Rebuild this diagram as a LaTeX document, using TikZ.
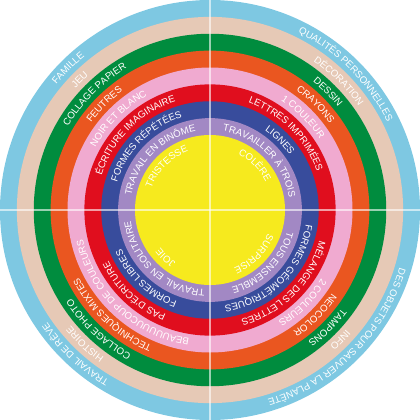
\documentclass[tikz,border=0pt]{standalone}
\usepackage{fontspec}
\setmainfont{Liberation Sans}
\usetikzlibrary{decorations.text}
\definecolor{RingSky}{RGB}{126,200,226}
\definecolor{RingSand}{RGB}{230,201,182}
\definecolor{RingGreen}{RGB}{0,140,62}
\definecolor{RingOrange}{RGB}{234,86,32}
\definecolor{RingPink}{RGB}{240,170,208}
\definecolor{RingRed}{RGB}{224,14,30}
\definecolor{RingBlue}{RGB}{56,76,156}
\definecolor{RingLilac}{RGB}{162,136,196}
\definecolor{CoreYellow}{RGB}{246,234,30}
\newcommand\ringfont{\fontsize{5.5}{6}\selectfont}
\tikzset{
  disc/.style={draw=none},
  divider/.style={draw=white,line width=0.6pt,opacity=0.6},
  ringlabel/.style={decorate,decoration={text along path,
    text={|\ringfont|#1},text align=center,text color=white}}
}
\begin{document}
\begin{tikzpicture}
  \useasboundingbox (-4.2,-4.2) rectangle (4.2,4.2);
  % rings, outside in
  \fill[disc,RingSky]    (0,0) circle (4.2);
  \fill[disc,RingSand]   (0,0) circle (3.8625);
  \fill[disc,RingGreen]  (0,0) circle (3.525);
  \fill[disc,RingOrange] (0,0) circle (3.1875);
  \fill[disc,RingPink]   (0,0) circle (2.85);
  \fill[disc,RingRed]    (0,0) circle (2.5125);
  \fill[disc,RingBlue]   (0,0) circle (2.175);
  \fill[disc,RingLilac]  (0,0) circle (1.8375);
  \fill[disc,CoreYellow] (0,0) circle (1.5);
  \draw[divider] (-4.2,0) -- (4.2,0);
  \draw[divider] (0,-4.2) -- (0,4.2);

  % top left
  \path[ringlabel={FAMILLE}] (190:3.961) arc[start angle=190,end angle=80,radius=3.961];
  \path[ringlabel={JEU}] (190:3.624) arc[start angle=190,end angle=80,radius=3.624];
  \path[ringlabel={COLLAGE PAPIER}] (190:3.286) arc[start angle=190,end angle=80,radius=3.286];
  \path[ringlabel={FEUTRES}] (190:2.949) arc[start angle=190,end angle=80,radius=2.949];
  \path[ringlabel={NOIR ET BLANC}] (190:2.611) arc[start angle=190,end angle=80,radius=2.611];
  \path[ringlabel={ÉCRITURE IMAGINAIRE}] (190:2.274) arc[start angle=190,end angle=80,radius=2.274];
  \path[ringlabel={FORMES RÉPÉTÉES}] (190:1.936) arc[start angle=190,end angle=80,radius=1.936];
  \path[ringlabel={TRAVAIL EN BINÔME}] (190:1.599) arc[start angle=190,end angle=80,radius=1.599];
  \path[ringlabel={TRISTESSE}] (190:1.25) arc[start angle=190,end angle=80,radius=1.25];

  % top right
  \path[ringlabel={QUALITÉS PERSONNELLES}] (100:3.961) arc[start angle=100,end angle=-10,radius=3.961];
  \path[ringlabel={DÉCORATION}] (100:3.624) arc[start angle=100,end angle=-10,radius=3.624];
  \path[ringlabel={DESSIN}] (100:3.286) arc[start angle=100,end angle=-10,radius=3.286];
  \path[ringlabel={CRAYONS}] (100:2.949) arc[start angle=100,end angle=-10,radius=2.949];
  \path[ringlabel={1 COULEUR}] (100:2.611) arc[start angle=100,end angle=-10,radius=2.611];
  \path[ringlabel={LETTRES IMPRIMÉES}] (100:2.274) arc[start angle=100,end angle=-10,radius=2.274];
  \path[ringlabel={LIGNES}] (100:1.936) arc[start angle=100,end angle=-10,radius=1.936];
  \path[ringlabel={TRAVAILLER À TROIS}] (100:1.599) arc[start angle=100,end angle=-10,radius=1.599];
  \path[ringlabel={COLÈRE}] (100:1.25) arc[start angle=100,end angle=-10,radius=1.25];

  % bottom right
  \path[ringlabel={DES OBJETS POUR SAUVER LA PLANÈTE}] (10:3.961) arc[start angle=10,end angle=-100,radius=3.961];
  \path[ringlabel={INFO}] (10:3.624) arc[start angle=10,end angle=-100,radius=3.624];
  \path[ringlabel={TAMPONS}] (10:3.286) arc[start angle=10,end angle=-100,radius=3.286];
  \path[ringlabel={NEOCOLOR}] (10:2.949) arc[start angle=10,end angle=-100,radius=2.949];
  \path[ringlabel={2 COULEURS}] (10:2.611) arc[start angle=10,end angle=-100,radius=2.611];
  \path[ringlabel={MÉLANGE DES LETTRES}] (10:2.274) arc[start angle=10,end angle=-100,radius=2.274];
  \path[ringlabel={FORMES GÉOMÉTRIQUES}] (10:1.936) arc[start angle=10,end angle=-100,radius=1.936];
  \path[ringlabel={TOUS ENSEMBLE}] (10:1.599) arc[start angle=10,end angle=-100,radius=1.599];
  \path[ringlabel={SURPRISE}] (10:1.25) arc[start angle=10,end angle=-100,radius=1.25];

  % bottom left
  \path[ringlabel={TRAVAIL DE RÊVE}] (282:3.961) arc[start angle=282,end angle=172,radius=3.961];
  \path[ringlabel={HISTOIRE}] (282:3.624) arc[start angle=282,end angle=172,radius=3.624];
  \path[ringlabel={COLLAGE PHOTO}] (282:3.286) arc[start angle=282,end angle=172,radius=3.286];
  \path[ringlabel={TECHNIQUES MIXTES}] (282:2.949) arc[start angle=282,end angle=172,radius=2.949];
  \path[ringlabel={BEAUUUUUCOUP DE COULEURS}] (282:2.611) arc[start angle=282,end angle=172,radius=2.611];
  \path[ringlabel={PAS D'ÉCRITURE}] (282:2.274) arc[start angle=282,end angle=172,radius=2.274];
  \path[ringlabel={FORMES LIBRES}] (282:1.936) arc[start angle=282,end angle=172,radius=1.936];
  \path[ringlabel={TRAVAIL EN SOLITAIRE}] (282:1.599) arc[start angle=282,end angle=172,radius=1.599];
  \path[ringlabel={JOIE}] (282:1.25) arc[start angle=282,end angle=172,radius=1.25];
\end{tikzpicture}
\end{document}
